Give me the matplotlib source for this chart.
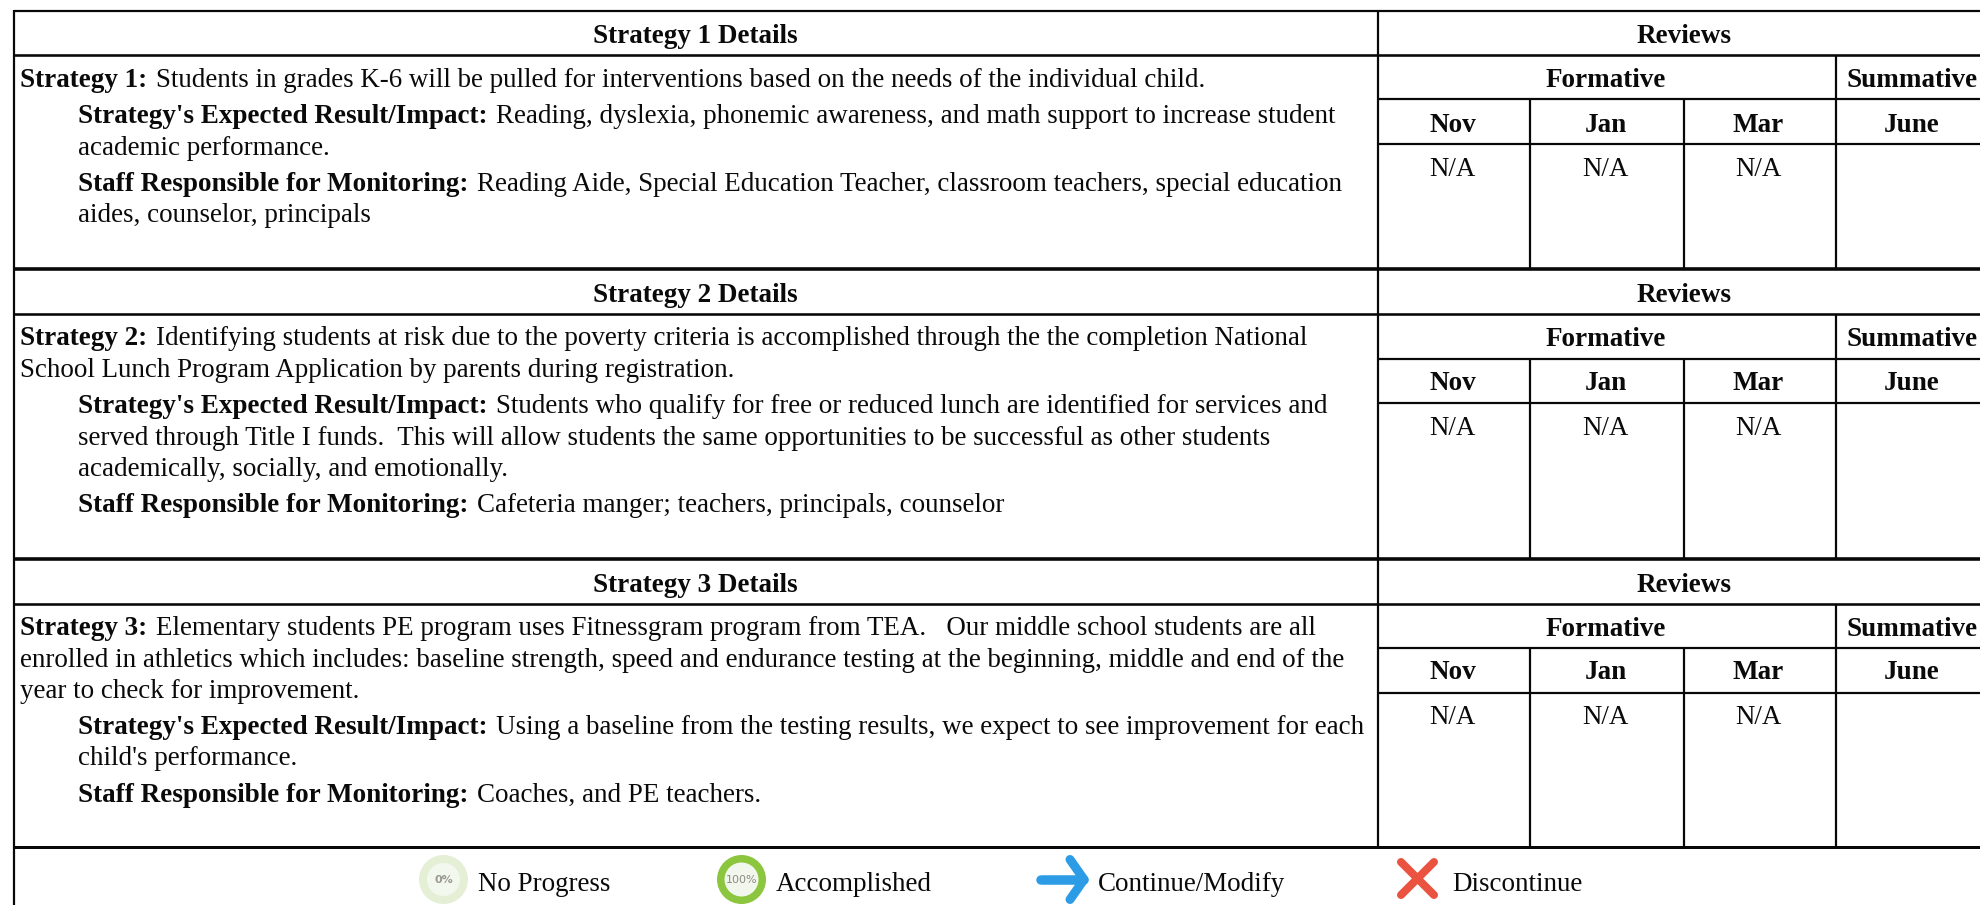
import matplotlib
matplotlib.use("Agg")
import matplotlib.pyplot as plt
from matplotlib.patches import Circle

plt.rcParams['font.family'] = ['Liberation Serif', 'DejaVu Serif']

W, H = 1980, 905
FS = 27.0 * 0.72
FSB = 27.1 * 0.72

block_titles = ["Strategy 1 Details", "Strategy 2 Details", "Strategy 3 Details"]
review_title = "Reviews"
formative = "Formative"
summative = "Summative"
months = ["Nov", "Jan", "Mar", "June"]
month_values = ["N/A", "N/A", "N/A", ""]

strategy1_lines = [
    ("Strategy 1:", "Students in grades K-6 will be pulled for interventions based on the needs of the individual child.", 0, 86.7),
    ("Strategy's Expected Result/Impact:", "Reading, dyslexia, phonemic awareness, and math support to increase student", 1, 123.3),
    ("", "academic performance.", 1, 155),
    ("Staff Responsible for Monitoring:", "Reading Aide, Special Education Teacher, classroom teachers, special education", 1, 191),
    ("", "aides, counselor, principals", 1, 221.7),
]
strategy2_lines = [
    ("Strategy 2:", "Identifying students at risk due to the poverty criteria is accomplished through the the completion National", 0, 345),
    ("", "School Lunch Program Application by parents during registration.", 0, 376.7),
    ("Strategy's Expected Result/Impact:", "Students who qualify for free or reduced lunch are identified for services and", 1, 413.3),
    ("", "served through Title I funds.  This will allow students the same opportunities to be successful as other students", 1, 445),
    ("", "academically, socially, and emotionally.", 1, 475.7),
    ("Staff Responsible for Monitoring:", "Cafeteria manger; teachers, principals, counselor", 1, 511.7),
]
strategy3_lines = [
    ("Strategy 3:", "Elementary students PE program uses Fitnessgram program from TEA.   Our middle school students are all", 0, 635),
    ("", "enrolled in athletics which includes: baseline strength, speed and endurance testing at the beginning, middle and end of the", 0, 666.7),
    ("", "year to check for improvement.", 0, 697.7),
    ("Strategy's Expected Result/Impact:", "Using a baseline from the testing results, we expect to see improvement for each", 1, 734.3),
    ("", "child's performance.", 1, 765),
    ("Staff Responsible for Monitoring:", "Coaches, and PE teachers.", 1, 801.7),
]
block_lines = [strategy1_lines, strategy2_lines, strategy3_lines]

block_tops = [10.7, 268.7, 558.7]
block_bottoms = [268.7, 558.7, 847]
row_1 = [55, 314.3, 604]
row_2 = [99, 358.7, 648.3]
row_3 = [144, 402.7, 692.7]
base_head = [43, 302, 591.5]
base_form = [87, 345.7, 635.7]
base_month = [132.2, 390, 679]
base_value = [176, 434.5, 723.5]

legend_labels = ["No Progress", "Accomplished", "Continue/Modify", "Discontinue"]
legend_text_x = [478, 776, 1098, 1452]

COLS = [1377.7, 1530.4, 1683.5, 1836, 1990]
LEFT = 13.5

fig = plt.figure(figsize=(W / 100, H / 100), dpi=100, facecolor="white")
ax = fig.add_axes([0, 0, 1, 1])
ax.set_xlim(0, W)
ax.set_ylim(H, 0)
ax.axis("off")
renderer = fig.canvas.get_renderer()


def hline(y, x0=LEFT, x1=W + 10, lw=2.2):
    ax.plot([x0, x1], [y, y], color="#080808", lw=lw * 0.72, solid_capstyle="butt", zorder=3)


def vline(x, y0, y1, lw=2.2):
    ax.plot([x, x], [y0, y1], color="#080808", lw=lw * 0.72, solid_capstyle="butt", zorder=3)


def txt(x, y, s, bold=False, ha="left"):
    return ax.text(x, y, s, fontsize=FSB if bold else FS, fontweight="bold" if bold else "normal",
                   ha=ha, va="baseline", color="#0a0a0a", zorder=4)


for i, (top, bottom) in enumerate(zip(block_tops, block_bottoms)):
    hline(top, lw=2.2 if i == 0 else 3.6)
    hline(row_1[i], lw=2.6)
    hline(row_2[i], COLS[0])
    hline(row_3[i], COLS[0])
    vline(COLS[0], top, bottom)
    vline(COLS[3], row_1[i], bottom)
    vline(COLS[1], row_2[i], bottom)
    vline(COLS[2], row_2[i], bottom)

    txt(695, base_head[i], block_titles[i], True, "center")
    txt(1684, base_head[i], review_title, True, "center")
    txt(1606, base_form[i], formative, True, "center")
    txt(1911.7, base_form[i], summative, True, "center")
    for c, (m, v) in enumerate(zip(months, month_values)):
        cx = 1452.5 + c * 153
        txt(cx, base_month[i], m, True, "center")
        if v:
            txt(cx, base_value[i], v, False, "center")

    for bold, reg, indent, y in block_lines[i]:
        x = 78.5 if indent else 20.5
        if bold:
            t = txt(x, y, bold, True)
            x = t.get_window_extent(renderer).x1 + 8.5
        txt(x, y, reg)

hline(block_bottoms[-1], lw=3.0)
vline(LEFT, block_tops[0] - 1.1, H)

# Legend
lx, ly = 443.5, 879.5
ax.add_patch(Circle((lx, ly), 24.5, fc="#e4efd6", ec="none", zorder=3))
ax.add_patch(Circle((lx, ly), 16.5, fc="#f3f8ee", ec="none", zorder=4))
ax.text(lx, ly + 0.5, "0%", fontsize=8, family="DejaVu Sans", fontweight="bold", color="#9a9a90",
        ha="center", va="center", zorder=5)
ax_x = 741.5
ax.add_patch(Circle((ax_x, ly), 24.5, fc="#8cc63f", ec="none", zorder=3))
ax.add_patch(Circle((ax_x, ly), 17, fc="#f1f7ec", ec="none", zorder=4))
ax.text(ax_x, ly + 0.5, "100%", fontsize=8, family="DejaVu Sans", color="#8a8a85",
        ha="center", va="center", zorder=5)

blue = "#2c9ce6"
ax.plot([1041, 1084], [879.5, 879.5], color=blue, lw=9.5 * 0.72, solid_capstyle="round", zorder=3)
ax.plot([1070, 1084, 1070], [859.5, 879.5, 899.5], color=blue, lw=9 * 0.72,
        solid_capstyle="round", solid_joinstyle="round", zorder=3)
red = "#ea5340"
ax.plot([1401, 1434], [862, 895], color=red, lw=8 * 0.72, solid_capstyle="round", zorder=3)
ax.plot([1434, 1401], [862, 895], color=red, lw=8 * 0.72, solid_capstyle="round", zorder=3)

for x, s in zip(legend_text_x, legend_labels):
    txt(x, 890.7, s)

fig.savefig("out.png", dpi=100, facecolor="white")
